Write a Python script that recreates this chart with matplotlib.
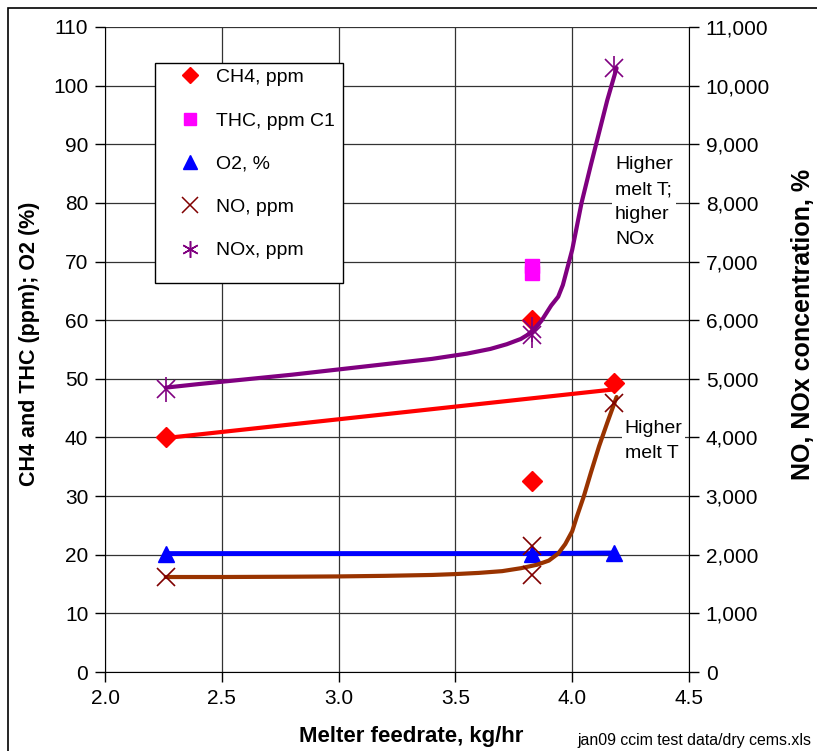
import matplotlib.pyplot as plt
from matplotlib.lines import Line2D
from matplotlib.patches import Rectangle
from matplotlib.ticker import MultipleLocator, StrMethodFormatter

plt.rcParams['font.family'] = ['Liberation Sans', 'DejaVu Sans']

# measured points (feedrate, kg/hr)
ch4_x = [2.26, 3.83, 3.83, 4.18]
ch4_y = [40.0, 60.0, 32.5, 49.3]
ch4_fit_x = [2.26, 4.18]
ch4_fit_y = [39.9, 48.2]

thc_x = [3.83, 3.83]
thc_y = [69.3, 68.0]

o2_x = [2.26, 3.83, 4.18]
o2_y = [20.2, 20.2, 20.3]

no_x = [2.26, 3.83, 3.83, 4.18]
no_y = [1620, 2150, 1650, 4590]

nox_x = [2.26, 3.83, 3.83, 4.18]
nox_y = [4820, 5750, 5850, 10300]

# hand-drawn trend curves
no_curve_x = [2.26, 2.5, 2.8, 3.0, 3.2, 3.4, 3.5, 3.6, 3.7, 3.78, 3.85, 3.9, 3.94, 3.97,
              4.0, 4.02, 4.05, 4.08, 4.115, 4.15, 4.19]
no_curve_y = [1620, 1620, 1625, 1630, 1640, 1655, 1670, 1690, 1720, 1770, 1830, 1900, 2020, 2180,
              2400, 2650, 3000, 3400, 3850, 4250, 4690]
nox_curve_x = [2.26, 2.4, 2.6, 2.8, 3.0, 3.2, 3.4, 3.55, 3.65, 3.72, 3.78, 3.83, 3.87, 3.91,
               3.94, 3.96, 3.98, 4.0, 4.04, 4.08, 4.115, 4.15, 4.19]
nox_curve_y = [4850, 4910, 4990, 5070, 5160, 5250, 5340, 5430, 5510, 5590, 5680, 5800, 6000, 6250,
               6400, 6600, 6900, 7200, 8000, 8650, 9200, 9750, 10300]

fig = plt.figure(figsize=(8.17, 7.51), dpi=100)
ax = fig.add_axes([105 / 817, 1 - 672 / 751, 584 / 817, 645 / 751])
ax2 = ax.twinx()

# outer chart frame
fig.patches.append(Rectangle((8 / 817, -0.1), 1.2, 1 - 8 / 751 + 0.1, transform=fig.transFigure,
                             fill=False, edgecolor='black', linewidth=1.2))

ax.set_xlim(2.0, 4.5)
ax.set_ylim(0, 110)
ax2.set_ylim(0, 11000)
ax.xaxis.set_major_locator(MultipleLocator(0.5))
ax.yaxis.set_major_locator(MultipleLocator(10))
ax2.yaxis.set_major_locator(MultipleLocator(1000))
ax.xaxis.set_major_formatter(StrMethodFormatter('{x:.1f}'))
ax2.yaxis.set_major_formatter(StrMethodFormatter('{x:,.0f}'))
ax.grid(True, color='#333333', linewidth=0.9)
ax.set_axisbelow(True)

for a in (ax, ax2):
    a.spines['top'].set_visible(False)
    a.tick_params(labelsize=15, length=7, width=1, direction='out', pad=5)
ax.spines['right'].set_visible(False)
ax2.spines['left'].set_visible(False)
ax2.spines['bottom'].set_visible(False)

line_kw = dict(solid_joinstyle='round', solid_capstyle='round', zorder=3)
ax.plot(ch4_fit_x, ch4_fit_y, color='#ff0000', linewidth=3, **line_kw)
ax.plot(o2_x, o2_y, color='#0000ff', linewidth=3.5, **line_kw)
ax2.plot(no_curve_x, no_curve_y, color='#993300', linewidth=3, **line_kw)
ax2.plot(nox_curve_x, nox_curve_y, color='#800080', linewidth=3, **line_kw)

ax.plot(ch4_x, ch4_y, 'D', color='#ff0000', markersize=10, linestyle='none', zorder=4)
ax.plot(thc_x, thc_y, 's', color='#ff00ff', markersize=10, linestyle='none', zorder=4)
ax.plot(o2_x, o2_y, '^', color='#0000ff', markersize=12, linestyle='none', zorder=4)
ax2.plot(no_x, no_y, 'x', color='#800000', markersize=13, markeredgewidth=1.2, linestyle='none', zorder=4)
ax2.plot(nox_x, nox_y, 'x', color='#800080', markersize=13, markeredgewidth=1.2, linestyle='none', zorder=4)
ax2.plot(nox_x, nox_y, '|', color='#800080', markersize=18, markeredgewidth=1.2, linestyle='none', zorder=4)

ax.set_xlabel('Melter feedrate, kg/hr', fontsize=16, fontweight='bold')
ax.xaxis.set_label_coords((411 - 105) / 584, (672 - 726) / 645)
ax.set_ylabel('CH4 and THC (ppm); O2 (%)', fontsize=15.5, fontweight='bold')
ax.yaxis.set_label_coords((40 - 105) / 584, (672 - 344) / 645)
ax2.set_ylabel('NO, NOx concentration, %', fontsize=18, fontweight='bold')
ax2.yaxis.set_label_coords((791 - 105) / 584, (672 - 324) / 645)

bbox = dict(facecolor='white', edgecolor='none', pad=2)
ax.text(4.183, 88.0, 'Higher\nmelt T;\nhigher\nNOx', fontsize=14, linespacing=1.62,
        va='top', ha='left', bbox=bbox, zorder=5)
ax.text(4.225, 43.0, 'Higher\nmelt T', fontsize=14, linespacing=1.62,
        va='top', ha='left', bbox=bbox, zorder=5)

fig.text(577 / 817, 1 - 745 / 751, 'jan09 ccim test data/dry cems.xls', fontsize=11.4, ha='left', va='baseline')

handles = [
    Line2D([], [], marker='D', color='#ff0000', linestyle='none', markersize=8),
    Line2D([], [], marker='s', color='#ff00ff', linestyle='none', markersize=9),
    Line2D([], [], marker='^', color='#0000ff', linestyle='none', markersize=10),
    Line2D([], [], marker='x', color='#800000', linestyle='none', markersize=11, markeredgewidth=1.1),
    Line2D([], [], marker=(6, 2, 0), color='#800080', linestyle='none', markersize=12, markeredgewidth=1.1),
]
labels = ['CH4, ppm', 'THC, ppm C1', 'O2, %', 'NO, ppm', 'NOx, ppm']
fig.patches.append(Rectangle((155 / 817, 1 - 283 / 751), 188 / 817, 220 / 751, transform=fig.transFigure,
                             facecolor='white', edgecolor='black', linewidth=1, zorder=6))
leg = fig.legend(handles, labels, loc='upper left', bbox_to_anchor=(165 / 817, 1 - 55 / 751),
                 frameon=False, fontsize=14, labelspacing=1.32, handlelength=1.2, handletextpad=0.7,
                 borderpad=0.2)
leg.set_zorder(7)

fig.savefig('out.png', dpi=100)
